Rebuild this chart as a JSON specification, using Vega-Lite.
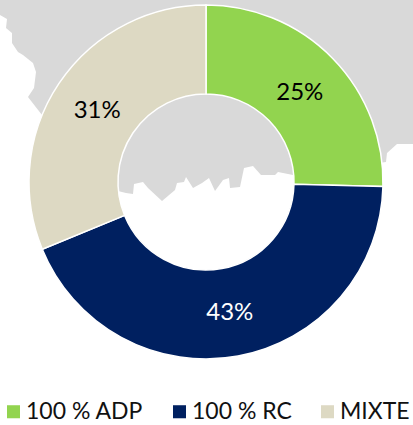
{
 "$schema":"https://vega.github.io/schema/vega-lite/v6.json",
 "width":413,"height":425,"padding":0,
 "autosize":{"type":"fit","contains":"padding"},
 "background":"white",
 "datasets":{
  "map":[{"mx":0,"my":115},{"mx":42,"my":115},{"mx":118,"my":191},{"mx":126,"my":193},{"mx":133,"my":194},{"mx":134,"my":184},{"mx":143,"my":182},{"mx":148,"my":188},{"mx":162,"my":201},{"mx":175,"my":190},{"mx":177,"my":183},{"mx":184,"my":182},{"mx":186,"my":177},{"mx":193,"my":188},{"mx":202,"my":183},{"mx":209,"my":178},{"mx":215,"my":191},{"mx":223,"my":180},{"mx":229,"my":178},{"mx":230,"my":188},{"mx":240,"my":187},{"mx":244,"my":168},{"mx":253,"my":166},{"mx":261,"my":175},{"mx":275,"my":175},{"mx":278,"my":172},{"mx":293,"my":175},{"mx":386,"my":162},{"mx":387,"my":153},{"mx":397,"my":144},{"mx":413,"my":144}],
  "coast":[{"cx":0,"cy":15},{"cx":7,"cy":19},{"cx":6,"cy":28},{"cx":12,"cy":33},{"cx":12,"cy":43},{"cx":18,"cy":52},{"cx":23,"cy":55},{"cx":33,"cy":63},{"cx":36,"cy":72},{"cx":34,"cy":88},{"cx":28,"cy":97},{"cx":42,"cy":115}],
  "share":[{"type":"100 % ADP","value":25.4,"label":"25%"},{"type":"100 % RC","value":43.4,"label":"43%"},{"type":"MIXTE","value":31.2,"label":"31%"}]
 },
 "layer":[
  {"data":{"name":"map"},
   "mark":{"type":"area","orient":"vertical","color":"#D9D9D9","interpolate":"linear"},
   "encoding":{
    "x":{"field":"mx","type":"quantitative","scale":{"domain":[0,413],"nice":false,"zero":false},"axis":null},
    "y":{"field":"my","type":"quantitative","scale":{"domain":[425,0],"nice":false},"axis":null}
   }},
  {"data":{"name":"coast"},
   "mark":{"type":"area","orient":"horizontal","color":"white","interpolate":"linear"},
   "encoding":{
    "x":{"field":"cx","type":"quantitative"},
    "y":{"field":"cy","type":"quantitative"}
   }},
  {"data":{"name":"share"},
   "mark":{"type":"arc","radius":177,"radius2":88,"stroke":"white","strokeWidth":1.5},
   "encoding":{
    "x":{"datum":206,"type":"quantitative"},
    "y":{"datum":182,"type":"quantitative"},
    "theta":{"field":"value","type":"quantitative","stack":true,"scale":{"domain":[0,100],"range":[0,6.2832]}},
    "color":{"field":"type","type":"nominal",
     "scale":{"domain":["100 % ADP","100 % RC","MIXTE"],"range":["#92D44F","#002060","#DDD9C3"]},
     "legend":{"title":null,"orient":"none","legendX":2,"legendY":400,"direction":"horizontal","columns":3,"symbolType":"square","symbolSize":170,"symbolStrokeWidth":0,"labelFont":"Lato","labelFontSize":23,"labelColor":"#111111","columnPadding":24,"labelOffset":1,"padding":0,"labelLimit":200}}
   }},
  {"data":{"name":"share"},
   "mark":{"type":"text","radius":131,"font":"Lato","fontSize":24,"dy":2},
   "encoding":{
    "x":{"datum":206,"type":"quantitative"},
    "y":{"datum":182,"type":"quantitative"},
    "theta":{"field":"value","type":"quantitative","stack":true,"scale":{"domain":[0,100],"range":[0,6.2832]}},
    "order":{"field":"type"},
    "text":{"field":"label"},
    "color":{"condition":{"test":"datum.type==='100 % RC'","value":"white"},"value":"black"}
   }}
 ],
 "config":{"view":{"stroke":null}}
}
